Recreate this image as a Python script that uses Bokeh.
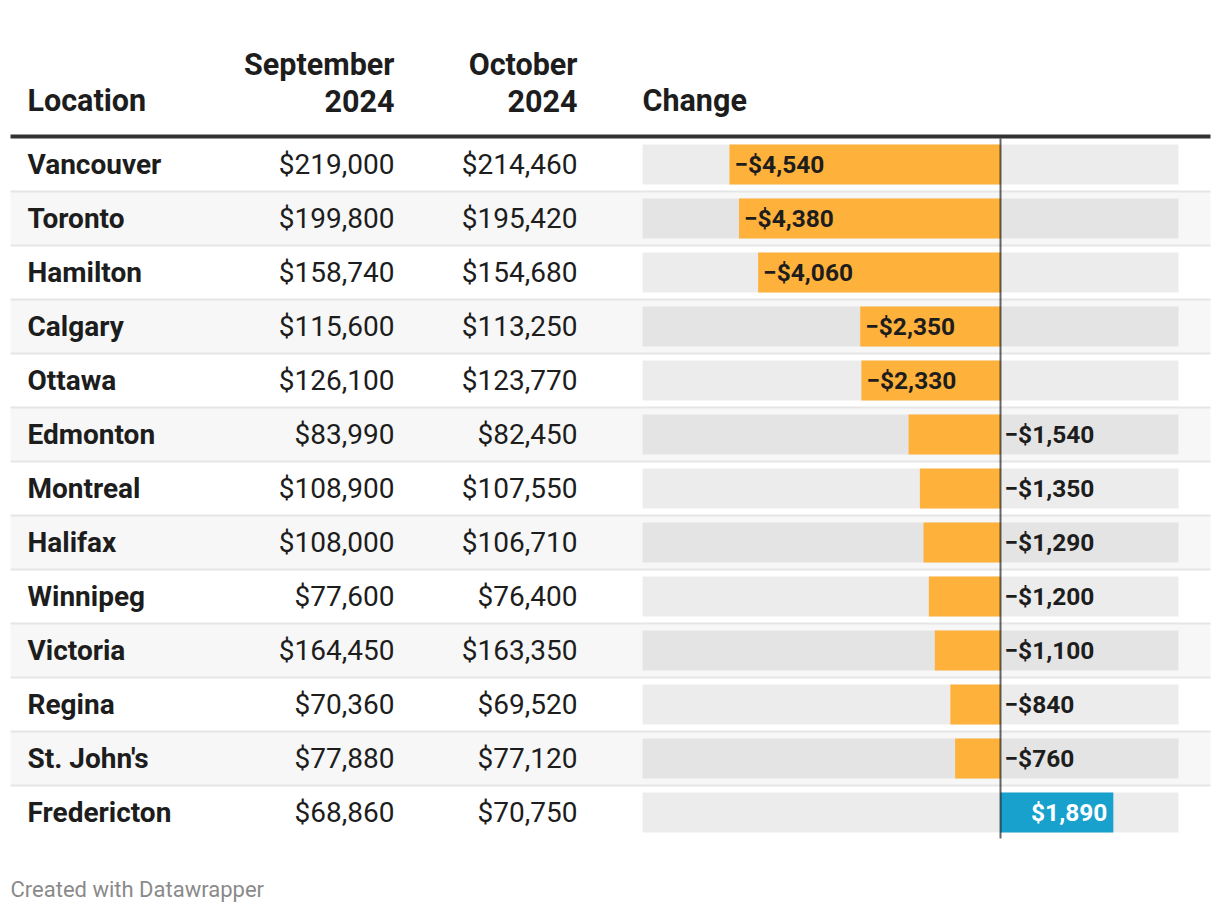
from bokeh.plotting import figure
from bokeh.models import Range1d, ColumnDataSource
from bokeh.core.properties import value
from bokeh.embed import file_html
from bokeh.resources import INLINE

# ---------------- data ----------------
cities = ["Vancouver", "Toronto", "Hamilton", "Calgary", "Ottawa", "Edmonton",
          "Montreal", "Halifax", "Winnipeg", "Victoria", "Regina", "St. John's",
          "Fredericton"]
sep_2024 = [219000, 199800, 158740, 115600, 126100, 83990, 108900, 108000,
            77600, 164450, 70360, 77880, 68860]
oct_2024 = [214460, 195420, 154680, 113250, 123770, 82450, 107550, 106710,
            76400, 163350, 69520, 77120, 70750]
change = [-4540, -4380, -4060, -2350, -2330, -1540, -1350, -1290, -1200,
          -1100, -840, -760, 1890]
header_location = "Location"
header_sep = ["September", "2024"]
header_oct = ["October", "2024"]
header_change = "Change"
footer = "Created with Datawrapper"

# ---------------- layout ----------------
W, H = 1212, 906

ROW0 = 164.0
ROWH = 54.0
ZERO = 1000.0
PX_PER_DOLLAR = 0.0597

FONT = "Roboto"
TXT = "#1d1d1d"
ORANGE = "#feb13b"
BLUE = "#18a1cd"

p = figure(width=W, height=H, output_backend="svg", toolbar_location=None,
           x_range=Range1d(0, W), y_range=Range1d(H, 0),
           x_axis_location=None, y_axis_location=None, min_border=0,
           outline_line_color=None, background_fill_color="white",
           border_fill_color="white")
p.grid.visible = False
p.extra_x_ranges = {"chg": Range1d(-ZERO / PX_PER_DOLLAR, (W - ZERO) / PX_PER_DOLLAR)}
p.extra_y_ranges = {"rows": Range1d((H - ROW0) / ROWH, -ROW0 / ROWH)}

n = len(cities)
rows = list(range(n))

# row shading (alternate rows)
shade = [i for i in rows if i % 2 == 1]
p.quad(left=10, right=1210, top=[i - 0.5 for i in shade],
       bottom=[i + 0.5 for i in shade], y_range_name="rows",
       fill_color="#f7f7f7", line_color=None)

# row separators
seps = [i + 0.5 for i in rows[:-1]]
p.segment(x0=10, x1=1210, y0=seps, y1=seps, y_range_name="rows",
          line_color="#e6e6e6", line_width=2)

# header rule
p.segment(x0=10, x1=1210, y0=136, y1=136, line_color="#333333", line_width=4)

# bar background track
bh = 40.0 / ROWH
p.quad(left=642, right=1178, top=[i - bh / 2 for i in rows],
       bottom=[i + bh / 2 for i in rows], y_range_name="rows",
       fill_color="black", fill_alpha=0.075, line_color=None)

# change bars
src = ColumnDataSource(dict(
    y=rows,
    left=[min(v, 0) for v in change],
    right=[max(v, 0) for v in change],
    color=[ORANGE if v < 0 else BLUE for v in change]))
p.hbar(y="y", left="left", right="right", height=bh, fill_color="color",
       line_color=None, source=src, x_range_name="chg", y_range_name="rows")

# zero line
p.segment(x0=0, x1=0, y0=138, y1=838, x_range_name="chg",
          line_color="black", line_alpha=0.6, line_width=2)

def money(v):
    s = "${:,}".format(abs(v))
    return ("\u2212" + s) if v < 0 else s

# value labels
THRESH = 2000
ins_neg = dict(x=[], y=[], t=[])
out_neg = dict(x=[], y=[], t=[])
ins_pos = dict(x=[], y=[], t=[])
for i, v in enumerate(change):
    if v < 0 and abs(v) > THRESH:
        ins_neg["x"].append(v); ins_neg["y"].append(i); ins_neg["t"].append(money(v))
    elif v < 0:
        out_neg["x"].append(0); out_neg["y"].append(i); out_neg["t"].append(money(v))
    else:
        ins_pos["x"].append(v); ins_pos["y"].append(i); ins_pos["t"].append(money(v))

LBL = "24.5px"
common_lbl = dict(x_range_name="chg", y_range_name="rows", text_baseline="middle",
                  text_font=value(FONT), text_font_style="bold", text_font_size=LBL)
p.text(x="x", y="y", text="t", source=ColumnDataSource(ins_neg), x_offset=5,
       text_align="left", text_color=TXT, **common_lbl)
p.text(x="x", y="y", text="t", source=ColumnDataSource(out_neg), x_offset=4,
       text_align="left", text_color=TXT, **common_lbl)
p.text(x="x", y="y", text="t", source=ColumnDataSource(ins_pos), x_offset=-6,
       text_align="right", text_color="white", **common_lbl)

# table texts
BODY = "28px"
p.text(x=27, y=rows, text=cities, y_range_name="rows", text_align="left",
       text_baseline="middle", text_font=value(FONT), text_font_style="bold",
       text_font_size=BODY, text_color=TXT)
p.text(x=394, y=rows, text=["${:,}".format(v) for v in sep_2024],
       y_range_name="rows", text_align="right", text_baseline="middle",
       text_font=value(FONT), text_font_size=BODY, text_color=TXT)
p.text(x=577, y=rows, text=["${:,}".format(v) for v in oct_2024],
       y_range_name="rows", text_align="right", text_baseline="middle",
       text_font=value(FONT), text_font_size=BODY, text_color=TXT)

# headers
HDR = "30.5px"
hk = dict(text_baseline="middle", text_font=value(FONT), text_font_style="bold",
          text_font_size=HDR, text_color=TXT)
p.text(x=[27], y=[100], text=[header_location], text_align="left", **hk)
p.text(x=[394] * 2, y=[64, 100], text=header_sep, text_align="right", **hk)
p.text(x=[577] * 2, y=[64, 100], text=header_oct, text_align="right", **hk)
p.text(x=[642], y=[100], text=[header_change], text_align="left", **hk)

# footer
p.text(x=[10], y=[889], text=[footer], text_align="left",
       text_baseline="middle", text_font=value(FONT), text_font_size="22px",
       text_color="#8a8a8a")

open("out.html", "w").write(file_html(p, INLINE))
